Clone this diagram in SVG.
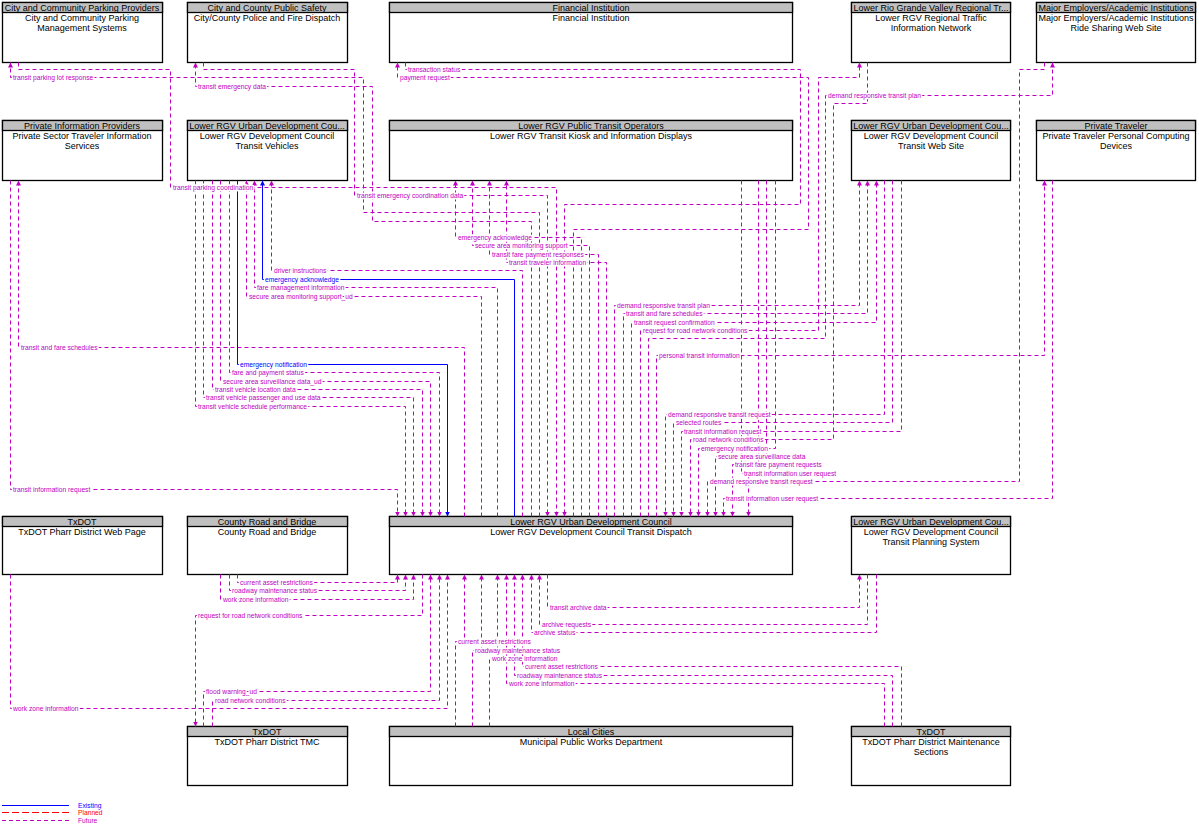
<svg xmlns="http://www.w3.org/2000/svg" width="1199" height="828" viewBox="0 0 1199 828">
<style>
.box{fill:#fff;stroke:#000;stroke-width:1.3}
.hd{fill:#c0c0c0;stroke:#000;stroke-width:1.3}
.nt{font-family:"Liberation Sans",Arial,sans-serif;font-size:9px;text-anchor:middle;fill:#000}
.f{fill:none;stroke:#c000c0;stroke-width:1;stroke-dasharray:4 3;marker-end:url(#am)}
.e{fill:none;stroke:#0000ff;stroke-width:1;marker-end:url(#ab)}
.lb{font-family:"Liberation Sans",Arial,sans-serif;font-size:6.7px;fill:#c000c0;stroke:#fff;stroke-width:3;paint-order:stroke;stroke-linejoin:round}
.lb.b{fill:#0000ff}
</style>
<defs>
<marker id="am" viewBox="0 0 6 6" markerWidth="5" markerHeight="5" refX="6" refY="3" orient="auto" markerUnits="userSpaceOnUse"><path d="M0,0 L6,3 L0,6 z" fill="#c000c0"/></marker>
<marker id="ab" viewBox="0 0 6 6" markerWidth="5" markerHeight="5" refX="6" refY="3" orient="auto" markerUnits="userSpaceOnUse"><path d="M0,0 L6,3 L0,6 z" fill="#0000ff"/></marker>
</defs>
<rect width="1199" height="828" fill="#fff"/>

<g id="n-parking"><rect class="box" x="2.5" y="2.5" width="160" height="60"/><rect class="hd" x="2.5" y="2.5" width="160" height="10"/><text class="nt" x="82" y="10.5">City and Community Parking Providers</text><text class="nt" x="82" y="21">City and Community Parking</text><text class="nt" x="82" y="31">Management Systems</text></g>
<g id="n-safety"><rect class="box" x="187.5" y="2.5" width="160" height="60"/><rect class="hd" x="187.5" y="2.5" width="160" height="10"/><text class="nt" x="267" y="10.5">City and County Public Safety</text><text class="nt" x="267" y="21">City/County Police and Fire Dispatch</text></g>
<g id="n-fin"><rect class="box" x="389.5" y="2.5" width="403" height="60"/><rect class="hd" x="389.5" y="2.5" width="403" height="10"/><text class="nt" x="591" y="10.5">Financial Institution</text><text class="nt" x="591" y="21">Financial Institution</text></g>
<g id="n-rgv"><rect class="box" x="851.5" y="2.5" width="159" height="60"/><rect class="hd" x="851.5" y="2.5" width="159" height="10"/><text class="nt" x="931" y="10.5">Lower Rio Grande Valley Regional Tr...</text><text class="nt" x="931" y="21">Lower RGV Regional Traffic</text><text class="nt" x="931" y="31">Information Network</text></g>
<g id="n-me"><rect class="box" x="1036.5" y="2.5" width="159" height="60"/><rect class="hd" x="1036.5" y="2.5" width="159" height="10"/><text class="nt" x="1116" y="10.5">Major Employers/Academic Institutions</text><text class="nt" x="1116" y="21">Major Employers/Academic Institutions</text><text class="nt" x="1116" y="31">Ride Sharing Web Site</text></g>

<g id="n-privinfo"><rect class="box" x="2.5" y="120.5" width="160" height="60"/><rect class="hd" x="2.5" y="120.5" width="160" height="10"/><text class="nt" x="82" y="128.5">Private Information Providers</text><text class="nt" x="82" y="139">Private Sector Traveler Information</text><text class="nt" x="82" y="149">Services</text></g>
<g id="n-vehicles"><rect class="box" x="187.5" y="120.5" width="160" height="60"/><rect class="hd" x="187.5" y="120.5" width="160" height="10"/><text class="nt" x="267" y="128.5">Lower RGV Urban Development Cou...</text><text class="nt" x="267" y="139">Lower RGV Development Council</text><text class="nt" x="267" y="149">Transit Vehicles</text></g>
<g id="n-kiosk"><rect class="box" x="389.5" y="120.5" width="403" height="60"/><rect class="hd" x="389.5" y="120.5" width="403" height="10"/><text class="nt" x="591" y="128.5">Lower RGV Public Transit Operators</text><text class="nt" x="591" y="139">Lower RGV Transit Kiosk and Information Displays</text></g>
<g id="n-website"><rect class="box" x="851.5" y="120.5" width="159" height="60"/><rect class="hd" x="851.5" y="120.5" width="159" height="10"/><text class="nt" x="931" y="128.5">Lower RGV Urban Development Cou...</text><text class="nt" x="931" y="139">Lower RGV Development Council</text><text class="nt" x="931" y="149">Transit Web Site</text></g>
<g id="n-pt"><rect class="box" x="1036.5" y="120.5" width="159" height="60"/><rect class="hd" x="1036.5" y="120.5" width="159" height="10"/><text class="nt" x="1116" y="128.5">Private Traveler</text><text class="nt" x="1116" y="139">Private Traveler Personal Computing</text><text class="nt" x="1116" y="149">Devices</text></g>

<g id="n-txweb"><rect class="box" x="2.5" y="516.5" width="160" height="58"/><rect class="hd" x="2.5" y="516.5" width="160" height="10"/><text class="nt" x="82" y="524.5">TxDOT</text><text class="nt" x="82" y="535">TxDOT Pharr District Web Page</text></g>
<g id="n-county"><rect class="box" x="187.5" y="516.5" width="160" height="58"/><rect class="hd" x="187.5" y="516.5" width="160" height="10"/><text class="nt" x="267" y="524.5">County Road and Bridge</text><text class="nt" x="267" y="535">County Road and Bridge</text></g>
<g id="n-dispatch"><rect class="box" x="389.5" y="516.5" width="403" height="58"/><rect class="hd" x="389.5" y="516.5" width="403" height="10"/><text class="nt" x="591" y="524.5">Lower RGV Urban Development Council</text><text class="nt" x="591" y="535">Lower RGV Development Council Transit Dispatch</text></g>
<g id="n-planning"><rect class="box" x="851.5" y="516.5" width="159" height="58"/><rect class="hd" x="851.5" y="516.5" width="159" height="10"/><text class="nt" x="931" y="524.5">Lower RGV Urban Development Cou...</text><text class="nt" x="931" y="535">Lower RGV Development Council</text><text class="nt" x="931" y="545">Transit Planning System</text></g>

<g id="n-tmc"><rect class="box" x="187.5" y="726.5" width="160" height="59"/><rect class="hd" x="187.5" y="726.5" width="160" height="10"/><text class="nt" x="267" y="734.5">TxDOT</text><text class="nt" x="267" y="745">TxDOT Pharr District TMC</text></g>
<g id="n-lc"><rect class="box" x="389.5" y="726.5" width="403" height="59"/><rect class="hd" x="389.5" y="726.5" width="403" height="10"/><text class="nt" x="591" y="734.5">Local Cities</text><text class="nt" x="591" y="745">Municipal Public Works Department</text></g>
<g id="n-maint"><rect class="box" x="851.5" y="726.5" width="159" height="59"/><rect class="hd" x="851.5" y="726.5" width="159" height="10"/><text class="nt" x="931" y="734.5">TxDOT</text><text class="nt" x="931" y="745">TxDOT Pharr District Maintenance</text><text class="nt" x="931" y="755">Sections</text></g>

<g id="connectors" transform="translate(0.5,0.5)">
<path class="f" d="M10 180V489H397V516"/>
<path class="f" d="M464 516V347H18V180"/>
<path class="f" d="M195 180V406H405V516"/>
<path class="f" d="M203 180V397H413V516"/>
<path class="f" d="M212 180V389H422V516"/>
<path class="f" d="M220 180V381H430V516"/>
<path class="f" d="M229 180V372H439V516"/>
<path class="e" d="M237 180V364H447V516"/>
<path class="f" d="M481 516V296H246V180"/>
<path class="f" d="M497 516V287H254V180"/>
<path class="e" d="M514 516V279H262V180"/>
<path class="f" d="M522 516V270H271V180"/>
<path class="f" d="M531 516V221H372V86H195V62"/>
<path class="f" d="M539 516V212H363V77H10V62"/>
<path class="f" d="M203 62V69H354V195H547V516"/>
<path class="f" d="M18 62V69H170V187H556V516"/>
<path class="f" d="M405 62V69H800V204H564V516"/>
<path class="f" d="M573 516V229H808V77H397V62"/>
<path class="f" d="M581 516V237H455V180"/>
<path class="f" d="M589 516V245H472V180"/>
<path class="f" d="M598 516V254H489V180"/>
<path class="f" d="M606 516V262H506V180"/>
<path class="f" d="M614 516V305H859V180"/>
<path class="f" d="M623 516V313H867V180"/>
<path class="f" d="M631 516V322H876V180"/>
<path class="f" d="M640 516V330H818V77H859V62"/>
<path class="f" d="M648 516V338H825V95H1052V62"/>
<path class="f" d="M867 62V103H833V439H690V516"/>
<path class="f" d="M656 516V355H1044V180"/>
<path class="f" d="M884 180V414H665V516"/>
<path class="f" d="M892 180V422H673V516"/>
<path class="f" d="M901 180V431H681V516"/>
<path class="f" d="M775 180V448H698V516"/>
<path class="f" d="M766 180V456H715V516"/>
<path class="f" d="M758 180V464H732V516"/>
<path class="f" d="M741 180V473H748V516"/>
<path class="f" d="M1044 62V69H1019V481H707V516"/>
<path class="f" d="M1052 180V498H723V516"/>
<path class="f" d="M237 574V582H397V574"/>
<path class="f" d="M229 574V590H405V574"/>
<path class="f" d="M220 574V599H413V574"/>
<path class="f" d="M422 574V615H195V726"/>
<path class="f" d="M203 726V691H430V574"/>
<path class="f" d="M212 726V700H439V574"/>
<path class="f" d="M10 574V708H447V574"/>
<path class="f" d="M455 726V641H464V574"/>
<path class="f" d="M472 726V650H481V574"/>
<path class="f" d="M489 726V658H497V574"/>
<path class="f" d="M901 726V666H522V574"/>
<path class="f" d="M892 726V675H514V574"/>
<path class="f" d="M884 726V683H506V574"/>
<path class="f" d="M876 574V632H531V574"/>
<path class="f" d="M867 574V624H539V574"/>
<path class="f" d="M547 574V607H859V574"/>
</g>

<g id="labels">
<text class="lb" x="13" y="491.5">transit information request</text>
<text class="lb" x="21" y="349.5">transit and fare schedules</text>
<text class="lb" x="198" y="408.5">transit vehicle schedule performance</text>
<text class="lb" x="206" y="399.5">transit vehicle passenger and use data</text>
<text class="lb" x="215" y="391.5">transit vehicle location data</text>
<text class="lb" x="223" y="383.5">secure area surveillance data_ud</text>
<text class="lb" x="232" y="374.5">fare and payment status</text>
<text class="lb b" x="240" y="366.5">emergency notification</text>
<text class="lb" x="249" y="298.5">secure area monitoring support_ud</text>
<text class="lb" x="257" y="289.5">fare management information</text>
<text class="lb b" x="265" y="281.5">emergency acknowledge</text>
<text class="lb" x="274" y="272.5">driver instructions</text>
<text class="lb" x="198" y="88.5">transit emergency data</text>
<text class="lb" x="13" y="79.5">transit parking lot response</text>
<text class="lb" x="357" y="197.5">transit emergency coordination data</text>
<text class="lb" x="173" y="189.5">transit parking coordination</text>
<text class="lb" x="408" y="71.5">transaction status</text>
<text class="lb" x="400" y="79.5">payment request</text>
<text class="lb" x="458" y="239.5">emergency acknowledge</text>
<text class="lb" x="475" y="247.5">secure area monitoring support</text>
<text class="lb" x="492" y="256.5">transit fare payment responses</text>
<text class="lb" x="509" y="264.5">transit traveler information</text>
<text class="lb" x="617" y="307.5">demand responsive transit plan</text>
<text class="lb" x="626" y="315.5">transit and fare schedules</text>
<text class="lb" x="634" y="324.5">transit request confirmation</text>
<text class="lb" x="643" y="332.5">request for road network conditions</text>
<text class="lb" x="828" y="97.5">demand responsive transit plan</text>
<text class="lb" x="693" y="441.5">road network conditions</text>
<text class="lb" x="659" y="357.5">personal transit information</text>
<text class="lb" x="668" y="416.5">demand responsive transit request</text>
<text class="lb" x="676" y="424.5">selected routes</text>
<text class="lb" x="684" y="433.5">transit information request</text>
<text class="lb" x="701" y="450.5">emergency notification</text>
<text class="lb" x="718" y="458.5">secure area surveillance data</text>
<text class="lb" x="735" y="466.5">transit fare payment requests</text>
<text class="lb" x="744" y="475.5">transit information user request</text>
<text class="lb" x="710" y="483.5">demand responsive transit request</text>
<text class="lb" x="726" y="500.5">transit information user request</text>
<text class="lb" x="240" y="584.5">current asset restrictions</text>
<text class="lb" x="232" y="592.5">roadway maintenance status</text>
<text class="lb" x="223" y="601.5">work zone information</text>
<text class="lb" x="198" y="617.5">request for road network conditions</text>
<text class="lb" x="206" y="693.5">flood warning_ud</text>
<text class="lb" x="215" y="702.5">road network conditions</text>
<text class="lb" x="13" y="710.5">work zone information</text>
<text class="lb" x="458" y="643.5">current asset restrictions</text>
<text class="lb" x="475" y="652.5">roadway maintenance status</text>
<text class="lb" x="492" y="660.5">work zone information</text>
<text class="lb" x="525" y="668.5">current asset restrictions</text>
<text class="lb" x="517" y="677.5">roadway maintenance status</text>
<text class="lb" x="509" y="685.5">work zone information</text>
<text class="lb" x="534" y="634.5">archive status</text>
<text class="lb" x="542" y="626.5">archive requests</text>
<text class="lb" x="550" y="609.5">transit archive data</text>
</g>

<g id="legend">
<line x1="2" y1="805.5" x2="69" y2="805.5" stroke="#0000ff" stroke-width="1"/>
<line x1="2" y1="812.5" x2="69" y2="812.5" stroke="#ff0000" stroke-width="1" stroke-dasharray="7 3"/>
<line x1="2" y1="820.5" x2="69" y2="820.5" stroke="#c000c0" stroke-width="1" stroke-dasharray="4 3"/>
<text class="lb b" x="78" y="808">Existing</text>
<text class="lb" x="78" y="815" style="fill:#ff0000">Planned</text>
<text class="lb" x="78" y="823">Future</text>
</g>
</svg>
